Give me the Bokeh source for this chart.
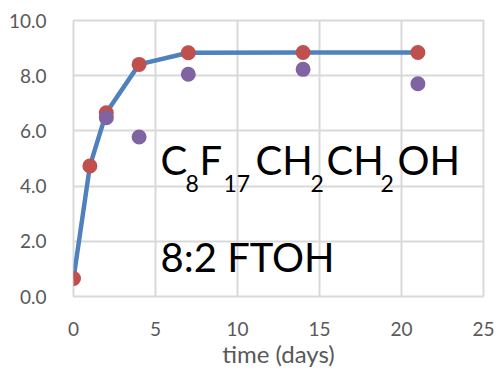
from bokeh.plotting import figure
from bokeh.models import Label, Range1d, FixedTicker, NumeralTickFormatter
from bokeh.embed import file_html
from bokeh.resources import INLINE

days = [0, 1, 2, 4, 7, 14, 21]
red_vals = [0.65, 4.73, 6.66, 8.41, 8.83, 8.84, 8.84]
purple_days = [2, 4, 7, 14, 21]
purple_vals = [6.48, 5.78, 8.05, 8.23, 7.71]
x_ticks = [0, 5, 10, 15, 20, 25]
y_ticks = [0, 2, 4, 6, 8, 10]

FONT = "Lato"
p = figure(width=496, height=370, output_backend="svg", toolbar_location=None,
           x_range=Range1d(0, 25), y_range=Range1d(0, 10),
           min_border_left=73, min_border_right=13, min_border_top=20, min_border_bottom=73)
p.background_fill_color = "white"
p.border_fill_color = "white"
p.outline_line_color = "#D9D9D9"
p.outline_line_width = 2

for ax in (p.xaxis[0], p.yaxis[0]):
    ax.axis_line_color = None
    ax.major_tick_line_color = None
    ax.minor_tick_line_color = None
    ax.major_label_text_font = FONT
    ax.major_label_text_font_size = "19px"
    ax.major_label_text_color = "#595959"

p.xaxis.ticker = FixedTicker(ticks=x_ticks)
p.yaxis.ticker = FixedTicker(ticks=y_ticks)
p.yaxis.formatter = NumeralTickFormatter(format="0.0")
p.xaxis.major_label_standoff = 19
p.yaxis.major_label_standoff = 21
p.xaxis.axis_label = "time (days)"
p.xaxis.axis_label_text_font = FONT
p.xaxis.axis_label_text_font_size = "24px"
p.xaxis.axis_label_text_font_style = "normal"
p.xaxis.axis_label_text_color = "#595959"
p.xaxis.axis_label_standoff = 0

p.xgrid.grid_line_color = "#D9D9D9"
p.ygrid.grid_line_color = "#D9D9D9"
p.xgrid.grid_line_width = 2
p.ygrid.grid_line_width = 2

p.line(days, red_vals, line_color="#4F81BD", line_width=4.5)
p.scatter(days, red_vals, size=15, fill_color="#C0504D", line_color=None)
p.scatter(purple_days, purple_vals, size=15, fill_color="#8064A2", line_color=None)

def px_to_x(px):
    return (px - 73) / 16.4

def py_to_y(py):
    return (296.7 - py) / 27.67

parts = [("C", 160, False), ("8", 185, True), ("F", 199, False), ("17", 223, True),
         ("CH", 255, False), ("2", 310, True), ("CH", 326, False), ("2", 380, True),
         ("OH", 397, False)]
for txt, px, sub in parts:
    p.add_layout(Label(x=px_to_x(px), y=py_to_y(183 if sub else 160), text=txt,
                       text_font=FONT, text_font_size="23px" if sub else "40px",
                       text_color="black", text_baseline="alphabetic", text_align="left"))
p.add_layout(Label(x=px_to_x(160), y=py_to_y(257), text="8:2 FTOH",
                   text_font=FONT, text_font_size="40px", text_color="black",
                   text_baseline="alphabetic", text_align="left"))

open("out.html", "w").write(file_html(p, INLINE))
